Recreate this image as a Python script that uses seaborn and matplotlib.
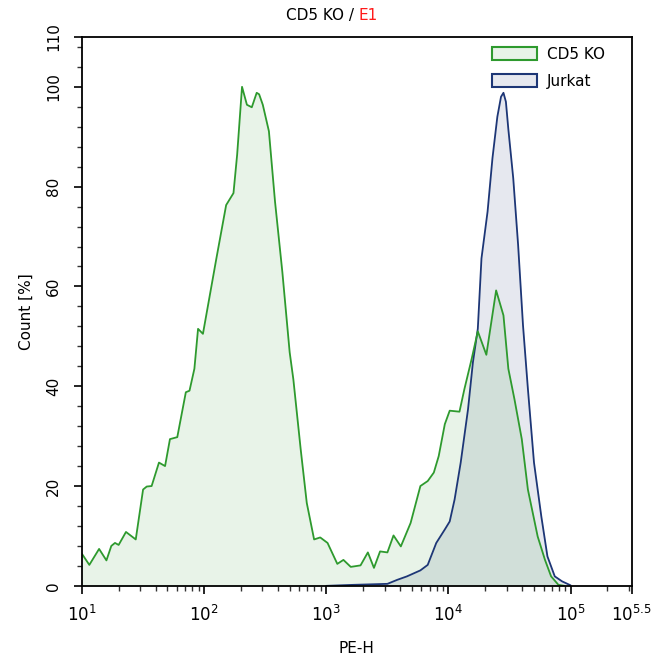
import numpy as np
import pandas as pd
import seaborn as sns
import matplotlib.pyplot as plt
from matplotlib.colors import to_rgb
from matplotlib.patches import Patch
from matplotlib.ticker import FixedLocator, LogLocator, NullFormatter

# PE-H positions as decades (log10) and Count [%]
cd5ko_log_pe = [1.00, 1.06, 1.14, 1.20, 1.24, 1.27, 1.30, 1.36, 1.44, 1.50, 1.53, 1.57,
                1.63, 1.68, 1.72, 1.78, 1.85, 1.88, 1.92, 1.95, 1.99, 2.10, 2.18, 2.24,
                2.27, 2.31, 2.35, 2.39, 2.43, 2.45, 2.48, 2.53, 2.58, 2.64, 2.70, 2.73,
                2.79, 2.84, 2.90, 2.95, 3.01, 3.05, 3.09, 3.14, 3.20, 3.28, 3.34, 3.39,
                3.44, 3.50, 3.55, 3.61, 3.69, 3.77, 3.83, 3.88, 3.92, 3.97, 4.01, 4.09,
                4.13, 4.19, 4.24, 4.31, 4.39, 4.45, 4.49, 4.54, 4.60, 4.65, 4.73, 4.79,
                4.84, 4.90, 4.95]
cd5ko_count = [6.4, 4.2, 7.4, 5.1, 8.0, 8.6, 8.2, 10.8, 9.3, 19.3, 19.9, 20.0,
               24.7, 24.0, 29.4, 29.8, 38.8, 39.1, 43.5, 51.5, 50.5, 65.6, 76.3, 78.7,
               86.4, 100.0, 96.4, 95.9, 98.8, 98.5, 96.4, 91.1, 77.0, 62.9, 46.8, 41.4,
               27.4, 16.6, 9.3, 9.7, 8.6, 6.5, 4.4, 5.2, 3.8, 4.1, 6.7, 3.6,
               6.9, 6.7, 10.1, 7.9, 12.6, 20.0, 21.0, 22.7, 26.0, 32.4, 35.1, 34.9,
               39.4, 45.5, 51.0, 46.3, 59.2, 54.2, 43.5, 37.4, 29.4, 19.3, 9.9, 5.2,
               1.9, 0.2, 0.0]

jurkat_log_pe = [3.00, 3.22, 3.50, 3.58, 3.66, 3.77, 3.83, 3.90, 3.97, 4.01, 4.05, 4.10,
                 4.16, 4.20, 4.24, 4.27, 4.32, 4.36, 4.40, 4.43, 4.45, 4.47, 4.49, 4.53,
                 4.57, 4.61, 4.65, 4.70, 4.76, 4.81, 4.87, 4.93, 5.00]
jurkat_count = [0.0, 0.2, 0.4, 1.2, 1.9, 3.1, 4.2, 8.6, 11.3, 12.9, 17.3, 24.7,
                35.4, 44.8, 51.5, 65.6, 75.0, 85.7, 94.0, 98.0, 98.8, 97.0, 91.5, 81.7,
                68.3, 52.2, 39.5, 24.7, 13.9, 5.9, 1.9, 0.9, 0.1]

samples = ['CD5 KO', 'Jurkat']
line_colors = {'CD5 KO': '#2e9a2e', 'Jurkat': '#1d3676'}
fill_alpha = 0.11

df = pd.concat([
    pd.DataFrame({'PE-H': 10 ** np.array(cd5ko_log_pe), 'Count': cd5ko_count, 'sample': 'CD5 KO'}),
    pd.DataFrame({'PE-H': 10 ** np.array(jurkat_log_pe), 'Count': jurkat_count, 'sample': 'Jurkat'}),
])

sns.set_style('ticks')
plt.rcParams['font.family'] = ['DejaVu Sans']
plt.rcParams['text.color'] = 'black'
plt.rcParams['axes.labelcolor'] = 'black'
plt.rcParams['xtick.color'] = 'black'
plt.rcParams['ytick.color'] = 'black'

fig = plt.figure(figsize=(6.56, 6.59), dpi=100)
ax = fig.add_axes([0.125, 0.111, 0.838, 0.833])

sns.lineplot(data=df, x='PE-H', y='Count', hue='sample', hue_order=samples[::-1],
             palette=line_colors, linewidth=1.3, sort=False, legend=False, ax=ax)
for s in samples[::-1]:
    d = df[df['sample'] == s]
    ax.fill_between(d['PE-H'], d['Count'], 0, color=line_colors[s], alpha=fill_alpha, linewidth=0)

ax.set_xscale('log')
ax.set_xlim(10, 10 ** 5.5)
ax.set_ylim(0, 110)

xt = [10, 100, 1e3, 1e4, 1e5, 10 ** 5.5]
ax.set_xticks(xt, ['$10^{1}$', '$10^{2}$', '$10^{3}$', '$10^{4}$', '$10^{5}$', '$10^{5.5}$'])
ax.xaxis.set_minor_locator(LogLocator(base=10, subs=np.arange(2, 10), numticks=20))
ax.xaxis.set_minor_formatter(NullFormatter())

ax.set_yticks([0, 20, 40, 60, 80, 100, 110])
ax.yaxis.set_minor_locator(FixedLocator(np.arange(0, 110, 4)))
for lab in ax.get_yticklabels():
    lab.set_rotation(90)
    lab.set_va('center')

ax.tick_params(axis='both', which='major', length=6, width=1.2, color='black')
ax.tick_params(axis='both', which='minor', length=3.5, width=1.0, color='#333333')
ax.tick_params(axis='x', which='major', labelsize=12, pad=8)
ax.tick_params(axis='y', which='major', labelsize=11, pad=9)
for sp in ax.spines.values():
    sp.set_color('black')
    sp.set_linewidth(1.3)

ax.set_xlabel('PE-H', fontsize=11, labelpad=11)
ax.set_ylabel('Count [%]', fontsize=11, labelpad=9)

handles = [Patch(facecolor=(*to_rgb(line_colors[s]), fill_alpha), edgecolor=line_colors[s], linewidth=1.5)
           for s in samples]
ax.legend(handles, samples, loc='upper left', bbox_to_anchor=(0.745, 0.982), frameon=False,
          fontsize=11, handlelength=3.0, handleheight=0.95, handletextpad=0.6,
          labelspacing=0.8, borderpad=0, borderaxespad=0)

fig.text(0.547, 0.977, 'CD5 KO / ', ha='right', va='center', fontsize=11)
fig.text(0.547, 0.977, 'E1', ha='left', va='center', fontsize=11, color='#ff1a1a')

fig.savefig('out.png', dpi=100)
